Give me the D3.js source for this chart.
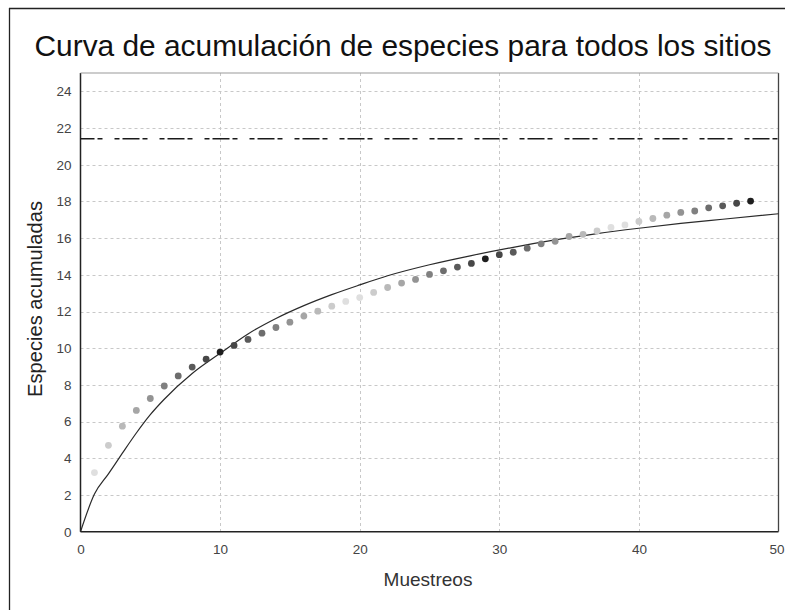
<!DOCTYPE html>
<html>
<head>
<meta charset="utf-8">
<script src="https://cdn.jsdelivr.net/npm/d3@7"></script>
<style>
  html, body { margin: 0; padding: 0; background: #fff; }
  svg { display: block; }
  text { font-family: "Liberation Sans", Arial, Helvetica, sans-serif; }
</style>
</head>
<body>
<svg id="chart" width="785" height="610"></svg>
<script>
// Muestreos (eje X) y especies acumuladas observadas
const muestreos = [1,2,3,4,5,6,7,8,9,10,11,12,13,14,15,16,17,18,19,20,21,22,23,24,
                   25,26,27,28,29,30,31,32,33,34,35,36,37,38,39,40,41,42,43,44,45,46,47,48];
const especies = [3.22,4.71,5.75,6.61,7.26,7.94,8.49,8.97,9.40,9.79,
                  10.15,10.48,10.82,11.13,11.42,11.75,12.02,12.29,12.55,12.76,
                  13.04,13.31,13.55,13.75,14.02,14.22,14.42,14.62,14.87,15.10,
                  15.23,15.45,15.69,15.83,16.09,16.21,16.39,16.58,16.72,16.91,
                  17.07,17.25,17.40,17.48,17.65,17.76,17.90,18.02];

// Curva ajustada (muestreos, especies)
const curvaX = [0,1,2,3,4,5,6,8,10,12,14,16,18,20,22,25,28,31,34,37,40,43,46,50];
const curvaY = [0,2.05,3.15,4.28,5.38,6.38,7.22,8.62,9.72,10.78,11.62,12.32,12.92,13.45,
                13.95,14.55,15.05,15.5,15.9,16.25,16.54,16.8,17.03,17.33];

// Asíntota estimada
const asintota = 21.42;

// Etiquetas de los ejes
const ticksX = [0,10,20,30,40,50];
const ticksY = [0,2,4,6,8,10,12,14,16,18,20,22,24];

const svg = d3.select("#chart");
const W = 785;
const pL = 80.5, pR = 778.5, pT = 73, pB = 531.7;

const x = d3.scaleLinear().domain([0, 50]).range([pL, pR]);
const y = d3.scaleLinear().domain([0, 25]).range([pB, pT]);

// Marco exterior
svg.append("line").attr("x1", 9.5).attr("x2", 9.5).attr("y1", 8).attr("y2", 610)
  .attr("stroke", "#222").attr("stroke-width", 1.3);
svg.append("line").attr("x1", 9).attr("x2", W).attr("y1", 8.5).attr("y2", 8.5)
  .attr("stroke", "#222").attr("stroke-width", 1.3);

// Título
const title = svg.append("text")
  .attr("x", 403).attr("y", 56)
  .attr("text-anchor", "middle")
  .attr("fill", "#111")
  .style("font-size", "26px")
  .text("Curva de acumulación de especies para todos los sitios");
const tw = title.node().getComputedTextLength();
title.style("font-size", (26 * 737 / tw).toFixed(2) + "px");

// Rejilla
const grid = svg.append("g").attr("stroke", "#c8c8c8").attr("stroke-width", 1)
  .attr("stroke-dasharray", "3,3");
grid.selectAll("line.h").data(ticksY.filter(d => d > 0)).join("line")
  .attr("class", "h")
  .attr("x1", pL).attr("x2", pR)
  .attr("y1", d => Math.round(y(d)) + 0.5).attr("y2", d => Math.round(y(d)) + 0.5);
grid.selectAll("line.v").data(ticksX.filter(d => d > 0 && d < 50)).join("line")
  .attr("class", "v")
  .attr("y1", pT).attr("y2", pB)
  .attr("x1", d => Math.round(x(d)) + 0.5).attr("x2", d => Math.round(x(d)) + 0.5);

// Ejes
const axisY = d3.axisLeft(y).tickValues(ticksY).tickSize(0).tickPadding(9);
const gy = svg.append("g").attr("transform", `translate(${pL},0)`).call(axisY);
gy.select(".domain").remove();
gy.selectAll("text").attr("fill", "#444").style("font-size", "13.5px")
  .style("font-family", "'Liberation Sans', Arial, sans-serif");

const axisX = d3.axisBottom(x).tickValues(ticksX).tickSize(0).tickPadding(13);
const gx = svg.append("g").attr("transform", `translate(0,${pB})`).call(axisX);
gx.select(".domain").remove();
gx.selectAll("text").attr("fill", "#444").style("font-size", "13.5px")
  .style("font-family", "'Liberation Sans', Arial, sans-serif");
// La última etiqueta se ajusta al borde derecho del lienzo
gx.selectAll(".tick").filter(d => d === 50).select("text")
  .attr("text-anchor", "end").attr("x", W - 1 - x(50));

// Bordes del área de trazado
svg.append("line").attr("x1", pL).attr("x2", pL).attr("y1", pT).attr("y2", pB)
  .attr("stroke", "#222").attr("stroke-width", 1.5);
svg.append("line").attr("x1", pL).attr("x2", pR).attr("y1", pB).attr("y2", pB)
  .attr("stroke", "#222").attr("stroke-width", 1.5);
svg.append("line").attr("x1", pR).attr("x2", pR).attr("y1", pT).attr("y2", pB)
  .attr("stroke", "#444").attr("stroke-width", 1.3);
svg.append("line").attr("x1", pL).attr("x2", pR).attr("y1", pT).attr("y2", pT)
  .attr("stroke", "#999").attr("stroke-width", 1);

// Asíntota
svg.append("line")
  .attr("x1", pL).attr("x2", pR)
  .attr("y1", y(asintota)).attr("y2", y(asintota))
  .attr("stroke", "#1a1a1a").attr("stroke-width", 1.5)
  .attr("stroke-dasharray", "5,3,17,3,5,12")
  .attr("stroke-dashoffset", 11);

// Curva ajustada
const curva = curvaX.map((d, i) => [d, curvaY[i]]);
svg.append("path").datum(curva)
  .attr("fill", "none").attr("stroke", "#2a2a2a").attr("stroke-width", 1.2)
  .attr("d", d3.line().x(d => x(d[0])).y(d => y(d[1])).curve(d3.curveMonotoneX));

// Puntos observados, con tonos de gris que se alternan de claro a oscuro
const tono = i => {
  const p = ((i - 10) % 19 + 19) % 19;
  const dist = Math.min(p, 19 - p);      // 0 = más oscuro, 9 = más claro
  const g = dist === 0 ? 30 : 52 + dist * 19;
  return `rgb(${g},${g},${g})`;
};
svg.append("g").selectAll("circle")
  .data(muestreos.map((m, i) => ({ m, s: especies[i] })))
  .join("circle")
  .attr("cx", d => x(d.m)).attr("cy", d => y(d.s))
  .attr("r", 3.4)
  .attr("fill", d => tono(d.m));

// Títulos de los ejes
const xTitle = svg.append("text")
  .attr("x", 428).attr("y", 586)
  .attr("text-anchor", "middle")
  .attr("fill", "#333")
  .style("font-size", "17px")
  .text("Muestreos");
const xw = xTitle.node().getComputedTextLength();
xTitle.style("font-size", (17 * 89 / xw).toFixed(2) + "px");

const yTitle = svg.append("text")
  .attr("transform", "translate(42,299) rotate(-90)")
  .attr("text-anchor", "middle")
  .attr("fill", "#222")
  .style("font-size", "18px")
  .text("Especies acumuladas");
const yw = yTitle.node().getComputedTextLength();
yTitle.style("font-size", (18 * 196 / yw).toFixed(2) + "px");
</script>
</body>
</html>
